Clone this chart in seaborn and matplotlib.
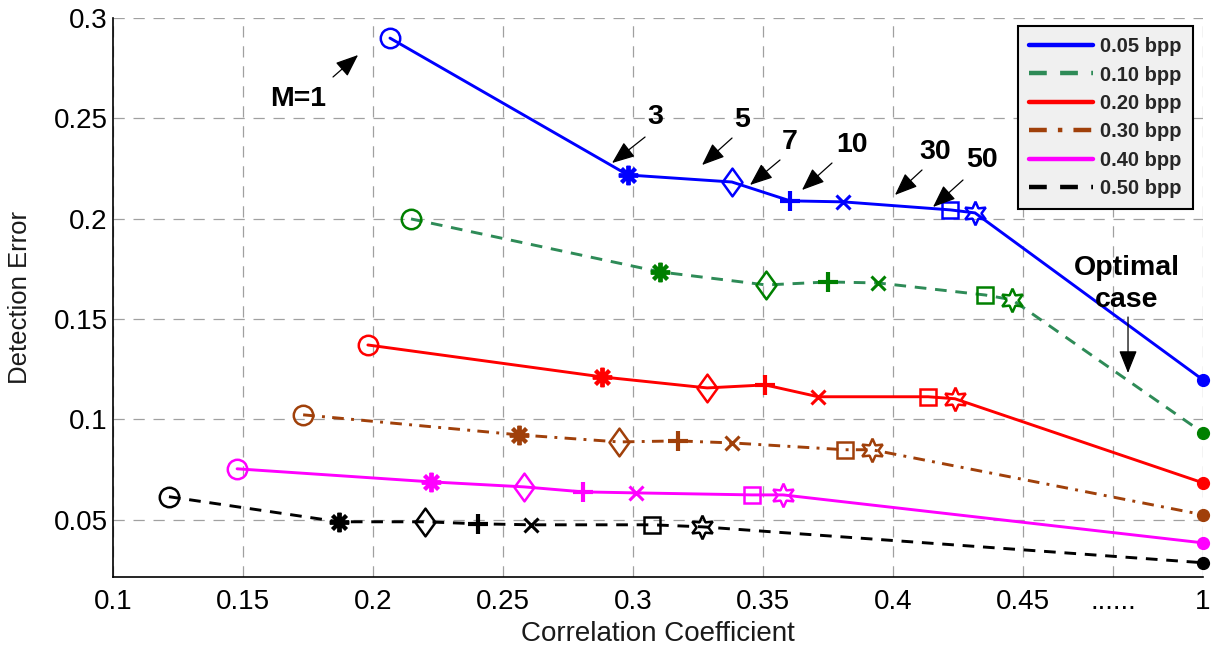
import numpy as np
import matplotlib
matplotlib.use("Agg")
import matplotlib.pyplot as plt
import seaborn as sns
from matplotlib.path import Path

# ---- data -------------------------------------------------------------
rates = ["0.05 bpp", "0.10 bpp", "0.20 bpp", "0.30 bpp", "0.40 bpp", "0.50 bpp"]
m_labels = ["1", "3", "5", "7", "10", "30", "50", "optimal"]

corr_005 = [0.2065, 0.2980, 0.3380, 0.3604, 0.3808, 0.4220, 0.4315, 1.0]
err_005 = [0.2900, 0.2218, 0.2183, 0.2089, 0.2084, 0.2044, 0.2029, 0.1197]

corr_010 = [0.2146, 0.3104, 0.3512, 0.3750, 0.3942, 0.4354, 0.4458, 1.0]
err_010 = [0.1999, 0.1735, 0.1670, 0.1685, 0.1680, 0.1620, 0.1596, 0.0933]

corr_020 = [0.1980, 0.2880, 0.3285, 0.3508, 0.3712, 0.4135, 0.4238, 1.0]
err_020 = [0.1371, 0.1212, 0.1157, 0.1172, 0.1113, 0.1113, 0.1103, 0.0684]

corr_030 = [0.1731, 0.2562, 0.2946, 0.3173, 0.3380, 0.3815, 0.3919, 1.0]
err_030 = [0.1023, 0.0923, 0.0888, 0.0893, 0.0883, 0.0849, 0.0849, 0.0525]

corr_040 = [0.1477, 0.2223, 0.2580, 0.2808, 0.3012, 0.3458, 0.3577, 1.0]
err_040 = [0.0754, 0.0689, 0.0664, 0.0639, 0.0634, 0.0624, 0.0624, 0.0385]

corr_050 = [0.1215, 0.1869, 0.2200, 0.2404, 0.2608, 0.3073, 0.3265, 1.0]
err_050 = [0.0615, 0.0490, 0.0490, 0.0480, 0.0475, 0.0475, 0.0465, 0.0286]

x_ticks = [0.1, 0.15, 0.2, 0.25, 0.3, 0.35, 0.4, 0.45, 0.725, 1.0]
x_tick_labels = ["0.1", "0.15", "0.2", "0.25", "0.3", "0.35", "0.4", "0.45", "......", "1"]
y_ticks = [0.05, 0.1, 0.15, 0.2, 0.25, 0.3]
y_tick_labels = ["0.05", "0.1", "0.15", "0.2", "0.25", "0.3"]

# ---- styling ------------------------------------------------------------
sns.set_style("white")
plt.rcParams["font.family"] = ["Liberation Sans", "DejaVu Sans"]

series = [
    dict(x=corr_005, y=err_005, line="#0000ff", mark="#0000ff", ls="-"),
    dict(x=corr_010, y=err_010, line="#2e8b57", mark="#008000", ls=(0, (4, 3))),
    dict(x=corr_020, y=err_020, line="#ff0000", mark="#ff0000", ls="-"),
    dict(x=corr_030, y=err_030, line="#a0400a", mark="#a0400a", ls=(0, (4, 2.5, 1, 2.5))),
    dict(x=corr_040, y=err_040, line="#ff00ff", mark="#ff00ff", ls="-"),
    dict(x=corr_050, y=err_050, line="#000000", mark="#000000", ls=(0, (4, 3))),
]

# custom marker shapes
diamond = Path([(0, -1), (0.72, 0), (0, 1), (-0.72, 0), (0, -1)],
               [Path.MOVETO, Path.LINETO, Path.LINETO, Path.LINETO, Path.CLOSEPOLY])
marker_specs = [
    dict(marker="o", ms=14, mew=1.8, fill=False),
    dict(marker=(8, 2, 0), ms=14, mew=2.8, fill=False),
    dict(marker=diamond, ms=20, mew=1.8, fill=False),
    dict(marker="+", ms=15, mew=3.0, fill=False),
    dict(marker="x", ms=10, mew=2.2, fill=False),
    dict(marker="s", ms=12, mew=1.8, fill=False),
    dict(marker=(6, 1, 0), ms=17, mew=1.8, fill=False),
    dict(marker="o", ms=8.5, mew=1.0, fill=True),
]

# broken x axis: linear up to 0.45, compressed beyond
K = 0.1258


def fwd(x):
    x = np.asarray(x, dtype=float)
    return np.where(x <= 0.45, x, 0.45 + (x - 0.45) * K)


def inv(u):
    u = np.asarray(u, dtype=float)
    return np.where(u <= 0.45, u, 0.45 + (u - 0.45) / K)


fig = plt.figure(figsize=(12.17, 6.55), dpi=100)
ax = fig.add_axes([0.0929, 0.1191, 0.8956, 0.8534])
ax.set_xscale("function", functions=(fwd, inv))

for name, s in zip(rates, series):
    sns.lineplot(x=s["x"], y=s["y"], ax=ax, color=s["line"], linestyle=s["ls"],
                 lw=2.1, sort=False, estimator=None, label=name, zorder=3)
    for xv, yv, spec in zip(s["x"], s["y"], marker_specs):
        ax.plot([xv], [yv], linestyle="none", marker=spec["marker"],
                ms=spec["ms"], mew=spec["mew"], color=s["mark"],
                mfc=s["mark"] if spec["fill"] else "none",
                zorder=4, clip_on=False)

ax.set_xlim(0.1, 1.0)
ax.set_ylim(0.0215, 0.3)
ax.set_xticks(x_ticks)
ax.set_xticklabels(x_tick_labels)
ax.set_yticks(y_ticks)
ax.set_yticklabels(y_tick_labels)
ax.minorticks_off()

ax.grid(True, color="#a0a0a0", lw=0.9, linestyle=(0, (9, 7)))
ax.set_axisbelow(True)
for side in ["top", "right"]:
    ax.spines[side].set_visible(False)
for side in ["left", "bottom"]:
    ax.spines[side].set_color("black")
    ax.spines[side].set_linewidth(1.2)

ax.tick_params(axis="both", direction="in", length=8, width=1, colors="black",
               labelsize=20, top=False, right=False)
ax.tick_params(axis="x", pad=9)
ax.tick_params(axis="y", pad=4)

ax.set_xlabel("Correlation Coefficient", fontsize=20, color="#1a1a1a")
ax.set_ylabel("Detection Error", fontsize=18.5, color="#1a1a1a")
ax.xaxis.set_label_coords(0.5, -0.078)
ax.yaxis.set_label_coords(-0.0743, 0.5)

# ---- annotations (axes-fraction coordinates) ---------------------------
arrow = dict(arrowstyle="-|>,head_length=0.7,head_width=0.28", color="black",
             lw=0.9, shrinkA=0, shrinkB=0, mutation_scale=20)
notes = [
    ("M=1", (0.1697, 0.8560), (0.2018, 0.8945), (0.2248, 0.9338)),
    ("3", (0.4972, 0.8229), (0.4881, 0.7871), (0.4578, 0.7406)),
    ("5", (0.5771, 0.8175), (0.5679, 0.7853), (0.5404, 0.7370)),
    ("7", (0.6211, 0.7782), (0.6119, 0.7460), (0.5844, 0.7013)),
    ("10", (0.6780, 0.7728), (0.6596, 0.7406), (0.6321, 0.6923)),
    ("30", (0.7541, 0.7603), (0.7422, 0.7281), (0.7174, 0.6834)),
    ("50", (0.7972, 0.7460), (0.7798, 0.7102), (0.7523, 0.6619)),
    ("Optimal\ncase", (0.9303, 0.5250), (0.9312, 0.4651), (0.9312, 0.3649)),
]
for text, pos, tail, head in notes:
    ax.text(*pos, text, transform=ax.transAxes, ha="center", va="center",
            fontsize=20.5, fontweight="bold", color="black", linespacing=1.3,
            zorder=6)
    ax.annotate("", xy=head, xytext=tail, xycoords="axes fraction",
                textcoords="axes fraction", arrowprops=arrow, zorder=6)

# ---- legend --------------------------------------------------------------
leg = ax.legend(loc="upper right", bbox_to_anchor=(0.9908, 0.9857),
                borderaxespad=0, frameon=True, fancybox=False,
                edgecolor="black", facecolor="#f0f0f0", framealpha=1,
                handlelength=3.2, handletextpad=0.35, labelspacing=0.47,
                borderpad=0.55, prop=dict(size=14.5, weight="bold"))
leg.get_frame().set_linewidth(1.5)
for line in leg.get_lines():
    line.set_linewidth(3.2)
leg.set_zorder(7)

fig.savefig("out.png", dpi=100)
